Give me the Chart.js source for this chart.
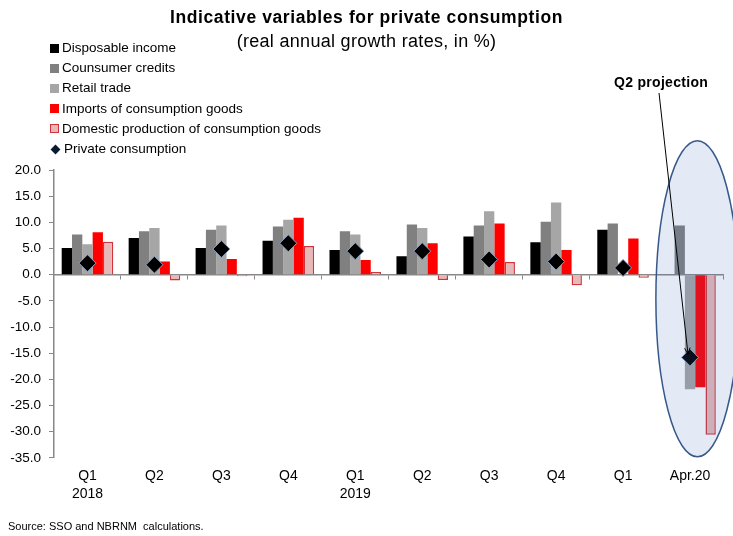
<!DOCTYPE html>
<html>
<head>
<meta charset="utf-8">
<script src="https://cdn.jsdelivr.net/npm/chart.js@4"></script>
<style>
  body { margin: 0; background: #fff; font-family: "Liberation Sans", Arial, sans-serif; }
  #wrap { position: relative; width: 733px; height: 536px; }
  #myChart { position: absolute; left: 0; top: 0; }
  .title { position: absolute; left: 0; width: 733px; text-align: center; color: #000; }
  #t1 { top: 7px; font-size: 17.5px; font-weight: bold; letter-spacing: 0.6px; }
  #t2 { top: 31px; font-size: 18px; letter-spacing: 0.3px; }
  #legend { position: absolute; left: 50px; top: 38px; font-size: 13.5px; }
  #legend div { height: 20.2px; line-height: 20px; white-space: nowrap; }
  #legend span.m { display: inline-block; width: 9px; height: 9px; margin-right: 3px; vertical-align: -0.5px; box-sizing: border-box; }
  #proj { position: absolute; left: 614px; top: 74px; font-size: 14px; font-weight: bold; letter-spacing: 0.3px; }
  #source { position: absolute; left: 8px; top: 520px; font-size: 11px; }
</style>
</head>
<body>
<div id="wrap">
  <canvas id="myChart" width="733" height="536"></canvas>
  <div class="title" id="t1">Indicative variables for private consumption</div>
  <div class="title" id="t2">(real annual growth rates, in %)</div>
  <div id="legend"></div>
  <div id="proj">Q2 projection</div>
  <div id="source">Source: SSO and NBRNM&nbsp; calculations.</div>
</div>
<script>
const categories = [['Q1','2018'],'Q2','Q3','Q4',['Q1','2019'],'Q2','Q3','Q4','Q1','Apr.20'];
const income      = [5.1, 7.0, 5.1, 6.5, 4.7, 3.5, 7.3, 6.2, 8.6, null];
const credits     = [7.7, 8.3, 8.6, 9.2, 8.3, 9.6, 9.4, 10.1, 9.8, 9.4];
const retail      = [5.8, 8.9, 9.4, 10.5, 7.7, 8.9, 12.1, 13.8, null, -21.9];
const imports     = [8.1, 2.5, 3.0, 10.9, 2.8, 6.0, 9.8, 4.7, 6.9, -21.5];
const domestic    = [6.3, -1.1, -0.3, 5.5, 0.5, -1.0, 2.4, -2.0, -0.6, -30.6];
const consumption = [2.2, 1.9, 4.9, 6.0, 4.5, 4.5, 2.9, 2.5, 1.3, -15.8];
const yTicks = [20, 15, 10, 5, 0, -5, -10, -15, -20, -25, -30, -35];

const FONT = "'Liberation Sans', Arial, sans-serif";

// ellipse + arrow round the April figure
const projPlugin = {
  id: 'proj',
  afterDatasetsDraw(chart) {
    const ctx = chart.ctx;
    const x = chart.scales.x, y = chart.scales.y;
    const last = categories.length - 1;
    const cw = x.getPixelForValue(last) - x.getPixelForValue(last - 1);
    const cx = x.getPixelForValue(last) + cw * 0.11;
    const top = y.getPixelForValue(25.6), bot = y.getPixelForValue(-34.8);
    ctx.save();
    ctx.beginPath();
    ctx.ellipse(cx, (top + bot) / 2, cw * 0.62, (bot - top) / 2, 0, 0, Math.PI * 2);
    ctx.fillStyle = 'rgba(68,114,196,0.15)';
    ctx.fill();
    ctx.strokeStyle = '#37598a';
    ctx.lineWidth = 1.5;
    ctx.stroke();
    // arrow
    const px = x.getPixelForValue(last) - 2, py = y.getPixelForValue(consumption[last]) - 3;
    const sx = x.getPixelForValue(last) - 31, sy = 93;
    ctx.beginPath();
    ctx.moveTo(sx, sy);
    ctx.lineTo(px, py);
    ctx.strokeStyle = '#000';
    ctx.lineWidth = 1;
    ctx.stroke();
    const ang = Math.atan2(py - sy, px - sx);
    ctx.beginPath();
    ctx.moveTo(px - 7 * Math.cos(ang - 0.4), py - 7 * Math.sin(ang - 0.4));
    ctx.lineTo(px, py);
    ctx.lineTo(px - 7 * Math.cos(ang + 0.4), py - 7 * Math.sin(ang + 0.4));
    ctx.stroke();
    ctx.restore();
  }
};

const bar = (label, data, bg, border, bw) => ({
  type: 'bar', label: label, data: data, backgroundColor: bg,
  borderColor: border || bg, borderWidth: bw || 0, order: 1,
  categoryPercentage: 0.77, barPercentage: 1.0
});

const chart = new Chart('myChart', {
  data: {
    labels: categories,
    datasets: [
      bar('Disposable income', income, '#000000'),
      bar('Counsumer credits', credits, '#808080'),
      bar('Retail trade', retail, '#a6a6a6'),
      bar('Imports of consumption goods', imports, '#ff0000'),
      bar('Domestic production of consumption goods', domestic, '#e6b9b8', '#d0343a', 1.5),
      {
        type: 'line', label: 'Private consumption', data: consumption,
        showLine: false, pointStyle: 'rectRot', pointRadius: 8.5, pointHoverRadius: 8.5,
        backgroundColor: '#000', borderColor: '#8ea3c4', borderWidth: 1, order: 0
      }
    ]
  },
  options: {
    responsive: false,
    animation: false,
    events: [],
    layout: { padding: { top: 170, right: 6, bottom: 32, left: 0 } },
    plugins: { legend: { display: false }, tooltip: { enabled: false } },
    scales: {
      x: {
        type: 'category', position: 'bottom', offset: true,
        grid: { display: false }, border: { display: false },
        ticks: { color: '#000', padding: 1, font: { family: FONT, size: 14, lineHeight: 1.29 }, maxRotation: 0, autoSkip: false }
      },
      x0: {
        type: 'category', labels: categories, position: { y: 0 }, offset: true,
        grid: { display: true, drawOnChartArea: false, offset: true, tickLength: 4, color: '#888' },
        border: { display: true, color: '#888', width: 1.5 },
        ticks: { display: false }
      },
      y: {
        min: -35, max: 20,
        afterBuildTicks: s => { s.ticks = yTicks.map(v => ({ value: v })); },
        afterFit: s => { s.width = 54; },
        grid: { display: true, drawOnChartArea: false, tickLength: 5, color: '#888' },
        border: { display: true, color: '#888', width: 1.5 },
        ticks: { color: '#000', padding: 8, font: { family: FONT, size: 13.5 }, callback: v => v.toFixed(1) }
      }
    }
  },
  plugins: [projPlugin]
});

// html legend built from the datasets
const legendBox = document.getElementById('legend');
chart.data.datasets.forEach(ds => {
  const row = document.createElement('div');
  const m = document.createElement('span');
  m.className = 'm';
  if (ds.type === 'line') {
    m.style.width = '7px'; m.style.height = '7px';
    m.style.background = '#0b1a33';
    m.style.transform = 'rotate(45deg)';
    m.style.margin = '0 5px 0 2px';
  } else {
    m.style.background = ds.backgroundColor;
    if (ds.borderWidth) m.style.border = '1.5px solid ' + ds.borderColor;
  }
  row.appendChild(m);
  row.appendChild(document.createTextNode(ds.label));
  legendBox.appendChild(row);
});
</script>
</body>
</html>
